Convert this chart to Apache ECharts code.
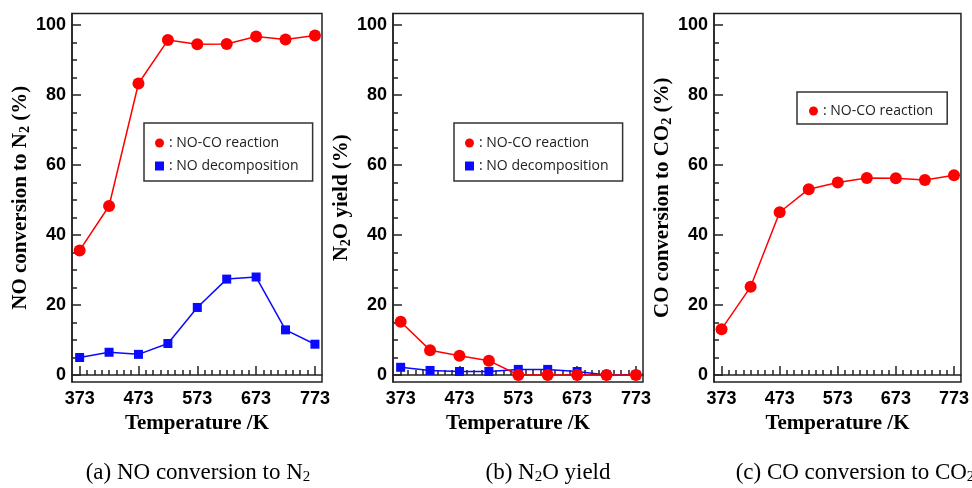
<!DOCTYPE html>
<html>
<head>
<meta charset="utf-8">
<script src="https://cdn.jsdelivr.net/npm/echarts@6/dist/echarts.min.js"></script>
<style>
  html, body { margin: 0; padding: 0; background: #fff; }
  #main { width: 972px; height: 488px; }
</style>
</head>
<body>
<div id="main"></div>
<script>
  // temperatures (K)
  var temps = [373, 423, 473, 523, 573, 623, 673, 723, 773];
  var xTickLabels = [373, 473, 573, 673, 773];
  var yTickLabels = [0, 20, 40, 60, 80, 100];

  // (a) NO conversion to N2 (%)
  var noConvNoCo = [35.6, 48.3, 83.3, 95.7, 94.5, 94.6, 96.7, 95.9, 97.0];
  var noConvDecomp = [5.0, 6.5, 5.9, 9.0, 19.3, 27.4, 28.0, 12.9, 8.8];
  // (b) N2O yield (%)
  var n2oNoCo = [15.2, 7.1, 5.5, 4.1, 0, 0, 0, 0, 0];
  var n2oDecomp = [2.2, 1.3, 1.0, 1.0, 1.6, 1.6, 1.0, 0, 0];
  // (c) CO conversion to CO2 (%)
  var coConvNoCo = [13.1, 25.2, 46.5, 53.1, 55.0, 56.3, 56.2, 55.7, 57.1];

  function pairs(vals) {
    var out = [];
    for (var i = 0; i < temps.length; i++) {
      out.push([temps[i], vals[i]]);
    }
    return out;
  }

  var xMinor = [];
  for (var t = 373; t <= 773; t += 12.5) {
    if ((t - 373) % 100 !== 0) xMinor.push(t);
  }
  var yMinor = [];
  for (var v = 5; v < 100; v += 5) {
    if (v % 20 !== 0) yMinor.push(v);
  }

  var serif = '"Liberation Serif", "Times New Roman", serif';
  var sans = '"Liberation Sans", Arial, sans-serif';
  var ink = '#222';
  var red = '#ff0000';
  var blue = '#0a0aff';

  var gridLefts = [72, 393, 714];
  var yNames = [
    'NO conversion to N{sub|2} (%)',
    'N{sub|2}O yield (%)',
    'CO conversion to CO{sub|2} (%)'
  ];

  var grids = [], xAxes = [], yAxes = [];
  for (var g = 0; g < 3; g++) {
    grids.push({
      left: gridLefts[g], top: 13.5, width: 250, height: 368.5,
      show: true, borderColor: ink, borderWidth: 1.5, backgroundColor: 'transparent'
    });
    // main x axis
    xAxes.push({
      type: 'value', gridIndex: g, min: 360, max: 785,
      name: 'Temperature /K', nameLocation: 'middle', nameGap: 31,
      nameTextStyle: { fontFamily: serif, fontWeight: 'bold', fontSize: 21, color: '#000' },
      axisLine: { show: true, lineStyle: { color: ink, width: 1.5 } },
      axisTick: { show: true, inside: true, length: 9, lineStyle: { color: ink, width: 1.5 }, customValues: xTickLabels },
      axisLabel: { fontFamily: sans, fontWeight: 'bold', fontSize: 18, color: '#000', margin: 8, customValues: xTickLabels },
      splitLine: { show: false }
    });
    // minor x ticks
    xAxes.push({
      type: 'value', gridIndex: g, min: 360, max: 785, position: 'bottom',
      axisLine: { show: false },
      axisTick: { show: true, inside: true, length: 5, lineStyle: { color: ink, width: 1.5 }, customValues: xMinor },
      axisLabel: { show: false },
      splitLine: { show: false }
    });
    // main y axis
    yAxes.push({
      type: 'value', gridIndex: g, min: -2, max: 103.3,
      name: yNames[g], nameLocation: 'middle', nameGap: 38,
      nameTextStyle: {
        fontFamily: serif, fontWeight: 'bold', fontSize: 21, color: '#000',
        rich: { sub: { fontFamily: serif, fontWeight: 'bold', fontSize: 14, color: '#000', verticalAlign: 'bottom', padding: [8, 0, 0, 0] } }
      },
      axisLine: { show: true, lineStyle: { color: ink, width: 1.5 } },
      axisTick: { show: true, inside: true, length: 9, lineStyle: { color: ink, width: 1.5 }, customValues: yTickLabels },
      axisLabel: { fontFamily: sans, fontWeight: 'bold', fontSize: 18, color: '#000', margin: 6, customValues: yTickLabels },
      splitLine: { show: false }
    });
    // minor y ticks
    yAxes.push({
      type: 'value', gridIndex: g, min: -2, max: 103.3, position: 'left',
      axisLine: { show: false },
      axisTick: { show: true, inside: true, length: 5, lineStyle: { color: ink, width: 1.5 }, customValues: yMinor },
      axisLabel: { show: false },
      splitLine: { show: false }
    });
  }

  function lineSeries(name, g, vals, color, symbol, size) {
    return {
      name: name, type: 'line', xAxisIndex: g * 2, yAxisIndex: g * 2,
      data: pairs(vals), symbol: symbol, symbolSize: size,
      lineStyle: { color: color, width: 1.5 },
      itemStyle: { color: color },
      animation: false
    };
  }

  var legendText = { fontFamily: '"Open Sans", sans-serif', fontSize: 14, color: '#222' };
  function legendBox(left, top, names, padding) {
    var data = [];
    for (var i = 0; i < names.length; i++) {
      data.push({ name: names[i], icon: names[i] === 'NO-CO reaction' ? 'circle' : 'rect' });
    }
    return {
      left: left, top: top, orient: 'vertical', data: data,
      formatter: ': {name}', itemWidth: 9, itemHeight: 9, itemGap: 9,
      padding: padding, borderColor: '#333', borderWidth: 1.5,
      textStyle: legendText, selectedMode: false
    };
  }

  var captionStyle = {
    fontFamily: serif, fontSize: 23, fontWeight: 'normal', color: '#000',
    rich: { sub: { fontFamily: serif, fontSize: 15, color: '#000', verticalAlign: 'bottom', padding: [10, 0, 0, 0] } }
  };

  var chart = echarts.init(document.getElementById('main'));
  chart.setOption({
    backgroundColor: '#fff',
    animation: false,
    title: [
      { text: '(a) NO conversion to N{sub|2}', left: 193, top: 455, textAlign: 'center', textStyle: captionStyle },
      { text: '(b) N{sub|2}O yield', left: 543, top: 455, textAlign: 'center', textStyle: captionStyle },
      { text: '(c) CO conversion to CO{sub|2}', left: 850, top: 455, textAlign: 'center', textStyle: captionStyle }
    ],
    legend: [
      legendBox(144, 123, ['NO-CO reaction', 'NO decomposition'], [13, 14, 8, 11]),
      legendBox(454, 123, ['NO-CO reaction', 'NO decomposition'], [13, 14, 8, 11]),
      legendBox(797, 92, ['NO-CO reaction'], [12, 14, 6, 12])
    ],
    grid: grids,
    xAxis: xAxes,
    yAxis: yAxes,
    series: [
      lineSeries('NO-CO reaction', 0, noConvNoCo, red, 'circle', 12),
      lineSeries('NO decomposition', 0, noConvDecomp, blue, 'rect', 9),
      lineSeries('NO decomposition', 1, n2oDecomp, blue, 'rect', 9),
      lineSeries('NO-CO reaction', 1, n2oNoCo, red, 'circle', 12),
      lineSeries('NO-CO reaction', 2, coConvNoCo, red, 'circle', 12)
    ]
  });
</script>
</body>
</html>
